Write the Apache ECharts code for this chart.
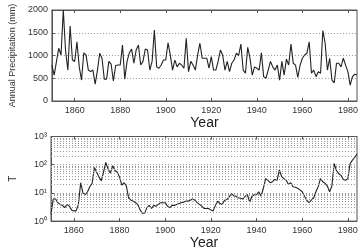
<!DOCTYPE html>
<html><head><meta charset="utf-8">
<script src="https://cdn.jsdelivr.net/npm/echarts@6/dist/echarts.min.js"></script>
<style>html,body{margin:0;padding:0;background:#fff}#c{width:361px;height:251px}</style>
</head><body><div id="c"></div>
<script>
// Years 1850..1984
const startYear = 1850;
const precip = [
 790, 570, 870, 1160, 1010, 2000, 1100, 680, 1650, 900,
 870, 1300, 750, 460, 1060, 1010, 680, 645, 680, 370,
 680, 1050, 940, 480, 480, 870, 810, 440, 780, 790,
 790, 1230, 480, 870, 1060, 1140, 830, 1120, 1230, 790,
 870, 1140, 1120, 680, 870, 1560, 750, 720, 790, 900,
 900, 1280, 1010, 680, 900, 750, 830, 790, 720, 1380,
 645, 870, 790, 680, 1010, 1270, 940, 940, 940, 720,
 975, 680, 680, 870, 1120, 1010, 680, 870, 645, 830,
 900, 1050, 1000, 1250, 680, 610, 1180, 940, 570, 750,
 720, 680, 1060, 535, 500, 680, 870, 750, 680, 790,
 460, 870, 570, 920, 790, 1250, 830, 790, 520, 790,
 940, 1010, 1050, 1300, 610, 680, 535, 645, 610, 1550,
 1270, 680, 940, 460, 400, 830, 830, 750, 940, 790,
 645, 350, 535, 590, 570
];
const tValues = [
 1.8, 6.1, 6.1, 4.5, 3.9, 3.6, 3.0, 3.9, 3.4, 2.5,
 2.3, 2.3, 3.9, 23, 9.8, 8.6, 11, 16.6, 21.6, 80,
 54, 37, 27, 54, 120, 70, 50, 92, 62, 54,
 37, 19, 23, 17.5, 6.6, 5.5, 5.1, 4.5, 3.9, 2.5,
 1.9, 1.9, 3.0, 3.6, 2.8, 3.6, 3.4, 3.9, 4.5, 4.5,
 4.5, 3.4, 3.0, 3.6, 3.6, 3.9, 4.2, 4.5, 4.7, 5.1,
 5.1, 5.5, 6.1, 5.5, 4.5, 3.9, 3.4, 2.8, 2.8, 2.8,
 2.5, 2.3, 3.6, 5.1, 4.2, 3.9, 5.5, 5.8, 7.2, 9.3,
 8, 7.6, 6.6, 6.6, 6.1, 7.6, 8.6, 4.7, 7.6, 8.6,
 8.6, 11, 7.6, 14.6, 32, 28, 23, 25, 30, 28,
 65, 38, 32, 28, 20, 23, 16.6, 15.8, 14.6, 12.8,
 11, 7.6, 5.5, 4.5, 5.5, 6.6, 11, 16.6, 32, 25,
 22, 17.5, 11, 17.5, 110, 62, 48, 42, 30, 28,
 32, 110, 145, 180, 240
];
const yearTicks = [1860, 1880, 1900, 1920, 1940, 1960, 1980];
const precipTicks = [0, 500, 1000, 1500, 2000];
const minorLogLines = [2,3,4,5,6,7,8,9,20,30,40,50,60,70,80,90,200,300,400,500,600,700,800,900];
const sup = {0:'\u2070',1:'\u00b9',2:'\u00b2',3:'\u00b3'};

const precipData = precip.map((v,i)=>[startYear+i, v]);
const tData = tValues.map((v,i)=>[startYear+i, v]);

const FONT = 'Liberation Sans, Arial, sans-serif';
const axisCol = '#555';
const gridCol = '#999';
const labelStyle = {color:'#333', fontSize:9, fontFamily:FONT};

function xAx(gi, name, nameGap){
  return {type:'value', gridIndex:gi, min:1850, max:1984,
    name:name, nameLocation:'middle', nameGap:nameGap,
    nameTextStyle:{color:'#222', fontSize:14, fontFamily:FONT},
    axisLine:{show:true, lineStyle:{color:axisCol}},
    axisTick:{show:true, inside:true, length:3, customValues:yearTicks, lineStyle:{color:axisCol}},
    axisLabel:{show:true, customValues:yearTicks, margin:5, ...labelStyle, formatter:v=>String(v)},
    splitLine:{show:false}};
}
function xTop(gi){
  return {type:'value', gridIndex:gi, min:1850, max:1984, position:'top',
    axisLine:{show:true, lineStyle:{color:axisCol}},
    axisTick:{show:true, inside:true, length:3, customValues:yearTicks, lineStyle:{color:axisCol}},
    axisLabel:{show:false}, splitLine:{show:false}};
}

const option = {
  animation:false,
  backgroundColor:'#fff',
  grid:[
    {left:40, right:4, top:10, height:91, show:true, borderColor:axisCol, borderWidth:1},
    {left:40, right:4, top:136.5, height:87.5, show:true, borderColor:axisCol, borderWidth:1}
  ],
  xAxis:[
    xAx(0, 'Year', 11),
    xAx(1, 'Year', 14),
    xTop(0), xTop(1)
  ],
  yAxis:[
    {type:'value', gridIndex:0, min:0, max:2000, interval:500,
     name:'Annual Precipitation (mm)', nameLocation:'middle', nameGap:33,
     nameTextStyle:{color:'#333', fontSize:9, fontFamily:FONT},
     axisLine:{show:true, lineStyle:{color:axisCol}},
     axisTick:{show:true, inside:true, length:3, lineStyle:{color:axisCol}},
     axisLabel:{margin:4, ...labelStyle, formatter:v=>String(v)},
     splitLine:{show:true, lineStyle:{color:gridCol, type:[1,2], width:1}}},
    {type:'log', logBase:10, gridIndex:1, min:1, max:1000,
     name:'T', nameLocation:'middle', nameGap:33, nameRotate:90,
     nameTextStyle:{color:'#333', fontSize:10, fontFamily:FONT},
     axisLine:{show:true, lineStyle:{color:axisCol}},
     axisTick:{show:true, inside:true, length:3, lineStyle:{color:axisCol}},
     axisLabel:{margin:4, ...labelStyle, formatter:function(v){
        const e = Math.round(Math.log10(v)); return '10' + sup[e]; }},
     splitLine:{show:true, lineStyle:{color:gridCol, type:[1,2], width:1}}}
  ],
  series:[
    {type:'line', xAxisIndex:0, yAxisIndex:0, data:precipData, symbol:'none',
     lineStyle:{color:'#222', width:1.1}},
    {type:'line', xAxisIndex:1, yAxisIndex:1, data:tData, symbol:'none',
     lineStyle:{color:'#222', width:1.1},
     markLine:{silent:true, symbol:'none', label:{show:false},
       lineStyle:{color:gridCol, type:[1,2], width:1},
       data: minorLogLines.map(v=>({yAxis:v}))}}
  ]
};
const chart = echarts.init(document.getElementById('c'), null, {renderer:'canvas'});
chart.setOption(option);
</script>
</body></html>
